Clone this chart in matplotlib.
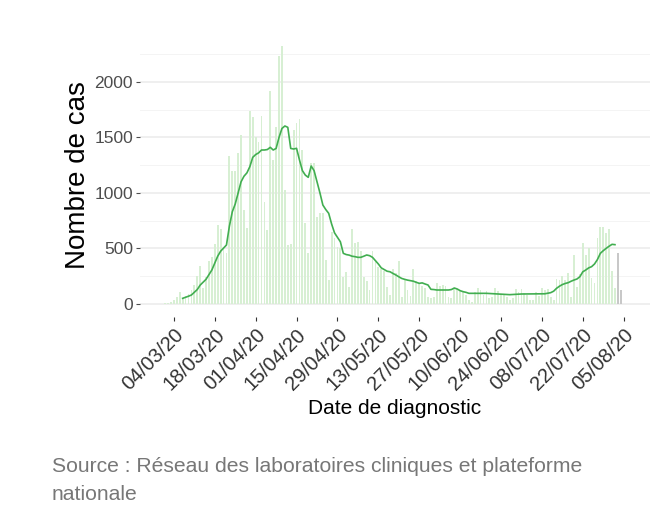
import matplotlib
matplotlib.use("Agg")
import matplotlib.pyplot as plt
import matplotlib.dates as mdates
import pandas as pd
import numpy as np

# ---- data ----
bar_start = "2020-02-29"
bar_values = [
    4, 6, 12, 21, 36, 60, 111, 51, 72, 90,
    126, 171, 252, 342, 141, 246, 390, 426, 540, 711,
    672, 516, 460, 1332, 1197, 1197, 1362, 1518, 846, 681,
    1740, 1680, 1506, 1461, 1692, 921, 666, 1920, 1300, 1590,
    2232, 2322, 1026, 531, 540, 1566, 1626, 1668, 1386, 726,
    456, 1266, 1272, 786, 816, 816, 396, 216, 651, 591,
    516, 501, 246, 291, 150, 672, 546, 561, 480, 246,
    210, 126, 480, 381, 336, 318, 300, 150, 81, 312,
    276, 390, 66, 216, 126, 72, 312, 210, 186, 162,
    141, 66, 51, 60, 186, 162, 171, 162, 66, 51,
    141, 132, 126, 120, 81, 36, 21, 111, 141, 126,
    81, 120, 51, 66, 141, 120, 90, 81, 60, 36,
    51, 132, 111, 132, 96, 81, 36, 40, 111, 75,
    141, 126, 132, 66, 36, 222, 216, 252, 216, 282,
    66, 441, 156, 270, 552, 441, 501, 231, 186, 591,
    690, 690, 636, 672, 300, 141,
]
gray_dates = ["2020-08-03", "2020-08-04"]
gray_values = [456, 126]

line_dates = [
    "2020-03-07", "2020-03-09", "2020-03-10", "2020-03-12", "2020-03-13", "2020-03-15",
    "2020-03-17", "2020-03-19", "2020-03-20", "2020-03-22", "2020-03-23", "2020-03-24",
    "2020-03-25", "2020-03-26", "2020-03-27", "2020-03-28", "2020-03-29", "2020-03-30",
    "2020-03-31", "2020-04-01", "2020-04-02", "2020-04-03", "2020-04-04", "2020-04-05",
    "2020-04-06", "2020-04-07", "2020-04-08", "2020-04-09", "2020-04-10", "2020-04-11",
    "2020-04-12", "2020-04-13", "2020-04-14", "2020-04-15", "2020-04-16", "2020-04-17",
    "2020-04-18", "2020-04-19", "2020-04-20", "2020-04-21", "2020-04-22", "2020-04-23",
    "2020-04-24", "2020-04-25", "2020-04-26", "2020-04-27", "2020-04-28", "2020-04-29",
    "2020-04-30", "2020-05-01", "2020-05-02", "2020-05-03", "2020-05-04", "2020-05-05",
    "2020-05-06", "2020-05-07", "2020-05-08", "2020-05-09", "2020-05-10", "2020-05-11",
    "2020-05-12", "2020-05-13", "2020-05-14", "2020-05-15", "2020-05-16", "2020-05-17",
    "2020-05-18", "2020-05-19", "2020-05-20", "2020-05-21", "2020-05-22", "2020-05-23",
    "2020-05-24", "2020-05-25", "2020-05-26", "2020-05-27", "2020-05-28", "2020-05-29",
    "2020-05-30", "2020-05-31", "2020-06-01", "2020-06-02", "2020-06-06", "2020-06-07",
    "2020-06-08", "2020-06-09", "2020-06-10", "2020-06-11", "2020-06-12", "2020-06-13",
    "2020-06-19", "2020-06-23", "2020-06-27", "2020-07-01", "2020-07-09", "2020-07-11",
    "2020-07-12", "2020-07-13", "2020-07-14", "2020-07-15", "2020-07-16", "2020-07-17",
    "2020-07-18", "2020-07-19", "2020-07-20", "2020-07-21", "2020-07-22", "2020-07-23",
    "2020-07-24", "2020-07-25", "2020-07-26", "2020-07-27", "2020-07-28", "2020-07-29",
    "2020-07-30", "2020-07-31", "2020-08-01", "2020-08-02",
]
line_values = [
    51, 70, 81, 130, 170, 222,
    306, 430, 475, 531, 700, 830,
    900, 1000, 1100, 1150, 1180, 1236,
    1320, 1345, 1360, 1386, 1386, 1390,
    1410, 1386, 1400, 1500, 1580, 1602,
    1590, 1400, 1395, 1401, 1296, 1200,
    1160, 1140, 1242, 1200, 1100, 1000,
    891, 850, 816, 720, 640, 600,
    560, 456, 445, 440, 430, 426,
    420, 420, 430, 441, 435, 420,
    390, 360, 325, 310, 295, 290,
    275, 261, 245, 230, 222, 215,
    210, 205, 195, 186, 190, 180,
    171, 132, 130, 126, 126, 130,
    144, 135, 120, 111, 105, 96,
    96, 90, 84, 90, 92, 102,
    115, 141, 160, 175, 185, 192,
    205, 216, 225, 246, 290, 306,
    325, 336, 360, 400, 456, 480,
    501, 520, 537, 534,
]

tick_labels = ["04/03/20", "18/03/20", "01/04/20", "15/04/20", "29/04/20", "13/05/20",
               "27/05/20", "10/06/20", "24/06/20", "08/07/20", "22/07/20", "05/08/20"]
y_ticks = [0, 500, 1000, 1500, 2000]

# ---- figure ----
plt.rcParams['font.family'] = ['Liberation Sans', 'DejaVu Sans']
W, H = 658, 532
fig = plt.figure(figsize=(W / 100, H / 100), dpi=100)
L, R, T, B = 140, 650, 33, 317
ax = fig.add_axes([L / W, 1 - B / H, (R - L) / W, (B - T) / H])

bar_dates = pd.date_range(bar_start, periods=len(bar_values), freq="D")
ax.bar(bar_dates, bar_values, width=0.62, color="#d7efd3", linewidth=0, zorder=2)
ax.bar(pd.to_datetime(gray_dates), gray_values, width=0.62, color="#c8c8c8", linewidth=0, zorder=2)
ax.plot(pd.to_datetime(line_dates), line_values, color="#41ae50", lw=1.2, zorder=3)

d0 = mdates.date2num(pd.Timestamp("2020-03-04"))
ax.set_xlim(d0 - 11.6, d0 + 163.0)
ax.set_ylim(-117, 2439)

tick_pos = pd.to_datetime(tick_labels, format="%d/%m/%y")
ax.set_xticks(tick_pos)
ax.set_xticklabels(tick_labels, rotation=45, ha="right", rotation_mode="anchor",
                   fontsize=14.5, color="#333333")
ax.set_yticks(y_ticks)
ax.set_yticklabels([str(v) for v in y_ticks], fontsize=12.5, color="#4d4d4d")
ax.set_yticks([250, 750, 1250, 1750, 2250], minor=True)
ax.tick_params(axis="y", which="major", length=3, width=0.8, color="#4d4d4d", pad=2)
ax.tick_params(axis="y", which="minor", length=0)
ax.tick_params(axis="x", which="major", length=3, width=0.8, color="#333333", pad=3)
ax.grid(axis="y", which="major", color="#ebebeb", lw=1.1, zorder=0)
ax.grid(axis="y", which="minor", color="#f4f4f4", lw=0.7, zorder=0)
ax.grid(axis="x", visible=False)
ax.set_axisbelow(True)
for s in ax.spines.values():
    s.set_visible(False)

fig.text(78 / W, 1 - 175 / H, "Nombre de cas", rotation=90, ha="center", va="center",
         fontsize=20, color="#000000")
fig.text(395 / W, 1 - 408 / H, "Date de diagnostic", ha="center", va="center",
         fontsize=15, color="#000000")
fig.text(52 / W, 1 - 467 / H, "Source : Réseau des laboratoires cliniques et plateforme",
         ha="left", va="center", fontsize=15.2, color="#777777")
fig.text(52 / W, 1 - 494 / H, "nationale", ha="left", va="center", fontsize=15.2, color="#777777")

fig.savefig("out.png", dpi=100)
